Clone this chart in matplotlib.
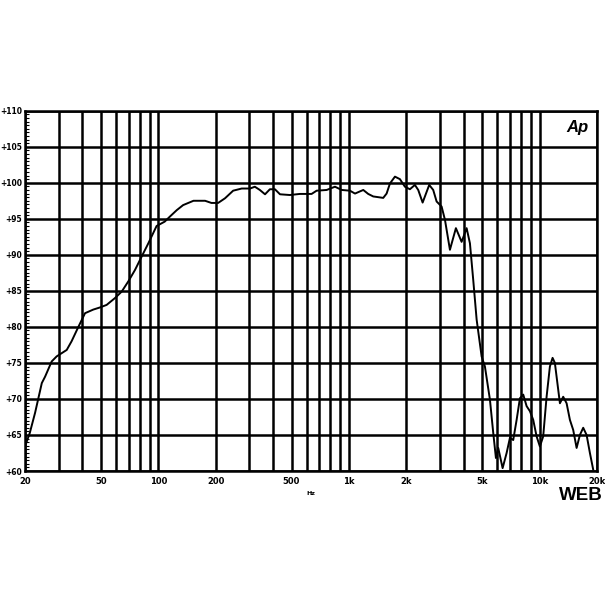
import numpy as np
import matplotlib
matplotlib.use("Agg")
import matplotlib.pyplot as plt
from matplotlib.ticker import FixedLocator, NullFormatter

# frequency response (Hz, dB)
freq = [20, 21.2, 22.6, 24.5, 25.5, 27.6, 29.3, 33.1, 35.1, 38.1, 41.3, 45.6, 49.5,
        53.6, 59.3, 64.3, 69.6, 75.5, 81.8, 88.7, 98, 108, 115, 125, 135, 153, 176,
        190, 206, 224, 247, 274, 303, 321, 341, 363, 385, 409, 435, 490, 553, 637,
        677, 764, 845, 916, 1012, 1076, 1142, 1189, 1262, 1341, 1425, 1513, 1576,
        1641, 1743, 1851, 1966, 2088, 2218, 2309, 2435, 2637, 2767, 2883, 3062,
        3189, 3386, 3639, 3899, 4142, 4311, 4487, 4675, 4965, 5166, 5489, 5712,
        5901, 6068, 6397, 6714, 6988, 7272, 7577, 7885, 8206, 8549, 8896, 9257,
        9644, 10035, 10443, 10880, 11324, 11696, 12025, 12780, 13298, 13855,
        14418, 15004, 15634, 16270, 16932, 17640, 18358, 19100]
level = [63.4, 65.3, 68.1, 72.2, 73.1, 75.2, 75.9, 76.8, 78.0, 80.0, 81.9, 82.4, 82.7,
         83.05, 84.0, 84.9, 86.3, 87.9, 89.75, 91.6, 94.0, 94.6, 95.3, 96.2, 96.9, 97.5, 97.5,
         97.2, 97.2, 97.85, 98.9, 99.2, 99.2, 99.45, 99.0, 98.4, 99.1, 99.1, 98.4, 98.3, 98.45, 98.45,
         98.9, 99.0, 99.45, 99.0, 98.9, 98.5, 98.8, 99.0, 98.45, 98.1, 98.0, 97.9, 98.5,
         99.9, 100.85, 100.5, 99.45, 99.1, 99.7, 99.0, 97.25, 99.7, 99.0, 97.4, 96.7,
         94.85, 90.7, 93.7, 91.8, 93.7, 91.6, 86.5, 81.0, 75.9, 74.5, 69.9, 65.3,
         61.8, 63.2, 60.4, 62.5, 64.6, 64.3, 67.1, 70.1, 70.6, 69.0, 68.3, 67.1,
         64.8, 63.4, 64.8, 70.3, 74.5, 75.7, 75.0, 69.4, 70.3, 69.4,
         67.1, 65.7, 63.2, 65.0, 66.0, 65.0, 62.5, 60.2]

x_labels = [20, 50, 100, 200, 500, 1000, 2000, 5000, 10000, 20000]
x_label_text = ["20", "50", "100", "200", "500", "1k", "2k", "5k", "10k", "20k"]
x_grid = [m * d for d in (10, 100, 1000) for m in range(2, 10)] + [10000, 20000]
y_ticks = list(range(60, 111, 5))
y_label_text = ["+%d" % v for v in y_ticks]

fig = plt.figure(figsize=(6.05, 6.05), dpi=100)
ax = fig.add_axes([25 / 605, 1 - 471 / 605, 572 / 605, 360.3 / 605])

ax.plot(freq, level, color="black", lw=1.4, zorder=3)

ax.set_xscale("log")
ax.set_xlim(20, 20000)
ax.set_ylim(60, 110)

ax.xaxis.set_major_locator(FixedLocator(x_labels))
ax.xaxis.set_minor_locator(FixedLocator(x_grid))
ax.xaxis.set_minor_formatter(NullFormatter())
ax.set_xticklabels(x_label_text)
ax.set_yticks(y_ticks)
ax.set_yticklabels(y_label_text)
ax.yaxis.set_minor_locator(FixedLocator(np.arange(60, 110.1, 0.5)))

ax.grid(True, which="both", axis="x", color="black", lw=1.8)
ax.grid(True, which="major", axis="y", color="black", lw=1.8)

ax.tick_params(axis="x", which="both", length=0, pad=4, labelsize=6)
ax.tick_params(axis="y", which="major", length=0, pad=2, labelsize=5.5)
ax.tick_params(axis="y", which="minor", direction="in", length=3, width=0.8)
for lab in ax.get_xticklabels() + ax.get_yticklabels():
    lab.set_fontweight("bold")

for s in ax.spines.values():
    s.set_linewidth(1.8)

ax.text(0.5, -0.055, "Hz", transform=ax.transAxes, ha="center", va="top",
        fontsize=4.5, fontweight="bold")
ax.text(0.985, 0.975, "Ap", transform=ax.transAxes, ha="right", va="top",
        fontsize=12, fontweight="bold", fontstyle="italic", family="Liberation Sans")
fig.text(603 / 605, 1 - 496 / 605, "WEB", ha="right", va="center",
         fontsize=13.5, fontweight="bold", family="Liberation Sans")

fig.savefig("out.png", dpi=100, facecolor="white")
